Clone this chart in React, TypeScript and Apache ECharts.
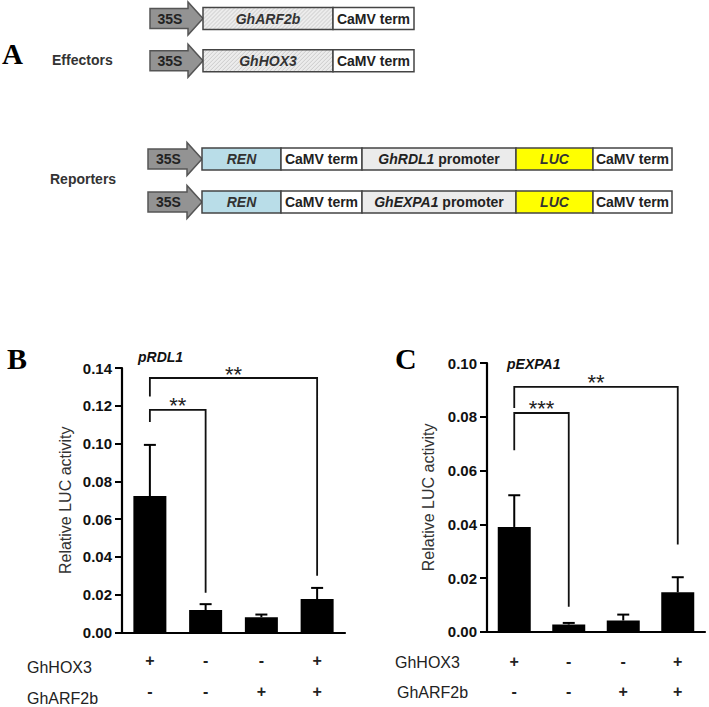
import React, { useEffect, useRef } from "react";
import * as echarts from "echarts";

const groups = ["g1", "g2", "g3", "g4"];
const hox3Signs = ["+", "-", "-", "+"];
const arf2bSigns = ["-", "-", "+", "+"];

const rdl1Means = [0.0722, 0.0119, 0.0081, 0.0177];
const rdl1ErrTops = [0.0993, 0.015, 0.0095, 0.0236];
const expa1Means = [0.039, 0.0027, 0.0042, 0.0147];
const expa1ErrTops = [0.0508, 0.0033, 0.0064, 0.0203];

// [fromIndex, toIndex, level, leftFoot, rightFoot]
const rdl1Brackets = [
  [0, 1, 0.1178, 0.1114, 0.021],
  [0, 3, 0.1347, 0.1249, 0.03],
];
const rdl1Stars = ["**", "**"];
const expa1Brackets = [
  [0, 1, 0.0814, 0.0675, 0.0093],
  [0, 3, 0.0911, 0.0833, 0.0325],
];
const expa1Stars = ["***", "**"];

const rdl1Axis = { min: 0, max: 0.14, interval: 0.02 };
const expa1Axis = { min: 0, max: 0.1, interval: 0.02 };

const SANS = "'Liberation Sans', Arial, sans-serif";
const SERIF = "'Liberation Serif', 'Times New Roman', serif";

function arrow(x0: number, xs: number, xt: number, cy: number) {
  const sh = 10;
  const hh = 16.5;
  return [
    {
      type: "polygon",
      shape: {
        points: [
          [x0, cy - sh],
          [xs, cy - sh],
          [xs, cy - hh],
          [xt, cy],
          [xs, cy + hh],
          [xs, cy + sh],
          [x0, cy + sh],
        ],
      },
      style: { fill: "#939393", stroke: "#555", lineWidth: 1.5 },
    },
    {
      type: "text",
      x: (x0 + xs) / 2 + 1,
      y: cy,
      style: {
        text: "35S",
        fontFamily: SANS,
        fontWeight: "bold",
        fontSize: 14,
        fill: "#222",
        align: "center",
        verticalAlign: "middle",
      },
    },
  ];
}

function box(x1: number, x2: number, cy: number, fill: string, text: string, rich?: any) {
  const h = 11;
  const els: any[] = [
    {
      type: "rect",
      shape: { x: x1, y: cy - h, width: x2 - x1, height: 2 * h },
      style: { fill, stroke: "#444", lineWidth: 1.5 },
    },
  ];
  els.push({
    type: "text",
    x: (x1 + x2) / 2,
    y: cy,
    style: {
      text,
      rich,
      fontFamily: SANS,
      fontWeight: "bold",
      fontSize: 14,
      fill: "#222",
      align: "center",
      verticalAlign: "middle",
    },
  });
  return els;
}

function italicBox(x1: number, x2: number, cy: number, fill: string, text: string) {
  const els = box(x1, x2, cy, fill, text);
  (els[1].style as any).fontStyle = "italic";
  (els[1].style as any).fill = "#333";
  return els;
}

function hatch(x1: number, x2: number, cy: number) {
  const h = 11;
  const lines: any[] = [];
  for (let x = x1 - 2 * h; x < x2; x += 4) {
    let ax = x, ay = cy + h, bx = x + 2 * h, by = cy - h;
    if (ax < x1) { ay = ay - (x1 - ax); ax = x1; }
    if (bx > x2) { by = by + (bx - x2); bx = x2; }
    if (bx <= ax) continue;
    lines.push({
      type: "line",
      shape: { x1: ax, y1: ay, x2: bx, y2: by },
      style: { stroke: "#c4c4c4", lineWidth: 0.8 },
    });
  }
  return lines;
}

function effectorRow(cy: number, gene: string) {
  return [
    ...arrow(150, 188, 203, cy),
    {
      type: "rect",
      shape: { x: 203, y: cy - 11, width: 130, height: 22 },
      style: { fill: "#ececec", stroke: "none" },
    },
    ...hatch(203, 333, cy),
    {
      type: "rect",
      shape: { x: 203, y: cy - 11, width: 130, height: 22 },
      style: { fill: "none", stroke: "#444", lineWidth: 1.5 },
    },
    {
      type: "text",
      x: 268,
      y: cy,
      style: {
        text: gene,
        fontFamily: SANS,
        fontWeight: "bold",
        fontStyle: "italic",
        fontSize: 14,
        fill: "#333",
        align: "center",
        verticalAlign: "middle",
      },
    },
    ...box(333, 414, cy, "#fff", "CaMV term"),
  ];
}

function reporterRow(cy: number, promoter: string) {
  return [
    ...arrow(148, 187, 202, cy),
    ...italicBox(202, 281, cy, "#b9dde8", "REN"),
    ...box(281, 362, cy, "#fff", "CaMV term"),
    ...box(362, 516, cy, "#ebebeb", `{i|${promoter}} promoter`, {
      i: { fontStyle: "italic", fontWeight: "bold", fontSize: 14, fontFamily: SANS, fill: "#222" },
    }),
    ...italicBox(516, 593, cy, "#ffff00", "LUC"),
    ...box(593, 672, cy, "#fff", "CaMV term"),
  ];
}

function label(x: number, y: number, text: string, size: number, extra: any = {}) {
  return {
    type: "text",
    x,
    y,
    style: {
      text,
      fontFamily: SANS,
      fontSize: size,
      fill: "#222",
      align: "left",
      verticalAlign: "middle",
      ...extra,
    },
  };
}

function errorSeries(gridIdx: number, means: number[], tops: number[]) {
  return {
    type: "custom",
    xAxisIndex: gridIdx,
    yAxisIndex: gridIdx,
    encode: { x: 0, y: [1, 2] },
    data: means.map((m, i) => [i, m, tops[i]]),
    renderItem: (params: any, api: any) => {
      const i = api.value(0);
      const lo = api.coord([i, api.value(1)]);
      const hi = api.coord([i, api.value(2)]);
      return {
        type: "group",
        children: [
          {
            type: "line",
            shape: { x1: lo[0], y1: lo[1], x2: hi[0], y2: hi[1] },
            style: { stroke: "#000", lineWidth: 2 },
          },
          {
            type: "line",
            shape: { x1: hi[0] - 6, y1: hi[1], x2: hi[0] + 6, y2: hi[1] },
            style: { stroke: "#000", lineWidth: 2 },
          },
        ],
      };
    },
    z: 1,
  };
}

function bracketSeries(gridIdx: number, brackets: number[][], stars: string[]) {
  return {
    type: "custom",
    xAxisIndex: gridIdx,
    yAxisIndex: gridIdx,
    encode: { x: [0, 1], y: [2, 3, 4] },
    data: brackets,
    clip: false,
    renderItem: (params: any, api: any) => {
      const a = api.value(0);
      const b = api.value(1);
      const lvl = api.value(2);
      const p1 = api.coord([a, api.value(3)]);
      const p2 = api.coord([a, lvl]);
      const p3 = api.coord([b, lvl]);
      const p4 = api.coord([b, api.value(4)]);
      return {
        type: "group",
        children: [
          {
            type: "polyline",
            shape: { points: [p1, p2, p3, p4] },
            style: { stroke: "#111", lineWidth: 1.8, fill: null },
          },
          {
            type: "text",
            x: (p2[0] + p3[0]) / 2,
            y: p2[1] - 4,
            style: {
              text: stars[params.dataIndex],
              fontFamily: SANS,
              fontSize: 22,
              fill: "#222",
              align: "center",
              verticalAlign: "middle",
            },
          },
        ],
      };
    },
    z: 3,
  };
}

function xAxis(gridIdx: number, margin: number, lh: number) {
  return {
    type: "category",
    gridIndex: gridIdx,
    data: groups,
    axisLine: { lineStyle: { color: "#000", width: 2.2 } },
    axisTick: { alignWithLabel: true, length: 7, lineStyle: { color: "#000", width: 2 } },
    axisLabel: {
      formatter: (_v: string, i: number) => `${hox3Signs[i]}\n${arf2bSigns[i]}`,
      fontFamily: SANS,
      fontWeight: "bold",
      fontSize: 16,
      color: "#222",
      lineHeight: lh,
      margin,
    },
  };
}

function yAxis(gridIdx: number, ax: any, gap: number) {
  return {
    type: "value",
    gridIndex: gridIdx,
    min: ax.min,
    max: ax.max,
    interval: ax.interval,
    name: "Relative LUC activity",
    nameLocation: "middle",
    nameGap: gap,
    nameTextStyle: { fontFamily: SANS, fontSize: 16, color: "#333" },
    axisLine: { show: true, lineStyle: { color: "#000", width: 2.2 } },
    axisTick: { show: true, length: 7, lineStyle: { color: "#000", width: 2 } },
    splitLine: { show: false },
    axisLabel: {
      formatter: (v: number) => v.toFixed(2),
      fontFamily: SANS,
      fontWeight: "bold",
      fontSize: 15,
      color: "#111",
      margin: 10,
    },
  };
}

export default function App() {
  const ref = useRef<HTMLDivElement>(null);
  useEffect(() => {
    if (!ref.current) return;
    const chart = echarts.init(ref.current, undefined, { renderer: "svg" });
    const graphic: any[] = [
      label(2, 54, "A", 29, { fontFamily: SERIF, fontWeight: "bold", fill: "#000" }),
      label(52, 60, "Effectors", 14, { fontWeight: "bold", fill: "#333" }),
      ...effectorRow(18.5, "GhARF2b"),
      ...effectorRow(60.8, "GhHOX3"),
      label(50, 179, "Reporters", 14, { fontWeight: "bold", fill: "#333" }),
      ...reporterRow(159, "GhRDL1"),
      ...reporterRow(202, "GhEXPA1"),
      label(7, 358, "B", 30, { fontFamily: SERIF, fontWeight: "bold", fill: "#000" }),
      label(395, 358, "C", 30, { fontFamily: SERIF, fontWeight: "bold", fill: "#000" }),
      label(138, 357, "pRDL1", 14, { fontWeight: "bold", fontStyle: "italic", fill: "#111" }),
      label(507, 364, "pEXPA1", 14, { fontWeight: "bold", fontStyle: "italic", fill: "#111" }),
      label(27, 667, "GhHOX3", 16),
      label(27, 698, "GhARF2b", 16),
      label(395, 662, "GhHOX3", 16),
      label(397, 692, "GhARF2b", 16),
    ];
    chart.setOption({
      animation: false,
      backgroundColor: "#fff",
      grid: [
        { left: 122, top: 368, width: 223, height: 271 },
        { left: 487, top: 363, width: 218, height: 269 },
      ],
      xAxis: [xAxis(0, 12.5, 31), xAxis(1, 14, 30.6)],
      yAxis: [yAxis(0, rdl1Axis, 49), yAxis(1, expa1Axis, 51)],
      series: [
        {
          type: "bar",
          xAxisIndex: 0,
          yAxisIndex: 0,
          data: rdl1Means,
          barWidth: 33,
          itemStyle: { color: "#000" },
          z: 2,
        },
        errorSeries(0, rdl1Means, rdl1ErrTops),
        bracketSeries(0, rdl1Brackets, rdl1Stars),
        {
          type: "bar",
          xAxisIndex: 1,
          yAxisIndex: 1,
          data: expa1Means,
          barWidth: 33,
          itemStyle: { color: "#000" },
          z: 2,
        },
        errorSeries(1, expa1Means, expa1ErrTops),
        bracketSeries(1, expa1Brackets, expa1Stars),
      ],
      graphic,
    });
    return () => chart.dispose();
  }, []);
  return (
    <div
      ref={ref}
      style={{ position: "fixed", left: 0, top: 0, width: 709, height: 707 }}
    />
  );
}
